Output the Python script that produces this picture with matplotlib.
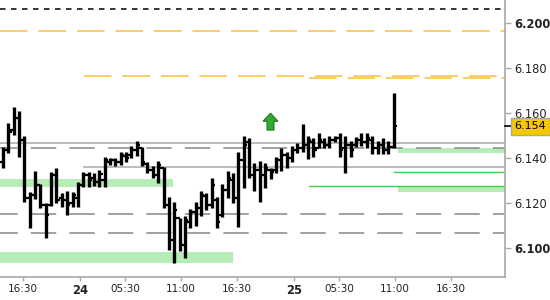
import matplotlib
matplotlib.use("Agg")
import matplotlib.pyplot as plt
import numpy as np
from matplotlib.collections import LineCollection
from matplotlib.patches import Polygon

# OHLC bars
opens = [6.1383, 6.1436, 6.1524, 6.1578, 6.1480, 6.1223, 6.1236, 6.1281, 6.1192, 6.1192,
         6.1325, 6.1223, 6.1214, 6.1201, 6.1223, 6.1281, 6.1325, 6.1312, 6.1294, 6.1303,
         6.1383, 6.1391, 6.1383, 6.1409, 6.1414, 6.1436, 6.1445, 6.1374, 6.1347, 6.1325,
         6.1356, 6.1192, 6.1037, 6.1134, 6.1015, 6.1117, 6.1161, 6.1179, 6.1232, 6.1192,
         6.1214, 6.1148, 6.1258, 6.1303, 6.1223, 6.1391, 6.1471, 6.1325, 6.1347, 6.1325,
         6.1347, 6.1347, 6.1391, 6.1414, 6.1400, 6.1436, 6.1445, 6.1458, 6.1471, 6.1445,
         6.1471, 6.1458, 6.1480, 6.1489, 6.1445, 6.1458, 6.1458, 6.1480, 6.1471, 6.1480,
         6.1445, 6.1458, 6.1436, 6.1449]
highs = [6.1449, 6.1555, 6.1626, 6.1609, 6.1498, 6.1250, 6.1343, 6.1285, 6.1201, 6.1338,
         6.1356, 6.1245, 6.1254, 6.1250, 6.1294, 6.1338, 6.1338, 6.1334, 6.1347, 6.1405,
         6.1400, 6.1400, 6.1427, 6.1427, 6.1453, 6.1476, 6.1449, 6.1383, 6.1365, 6.1387,
         6.1360, 6.1227, 6.1205, 6.1134, 6.1143, 6.1174, 6.1205, 6.1254, 6.1245, 6.1312,
         6.1227, 6.1285, 6.1343, 6.1334, 6.1427, 6.1498, 6.1489, 6.1378, 6.1387, 6.1378,
         6.1356, 6.1405, 6.1445, 6.1427, 6.1453, 6.1467, 6.1551, 6.1498, 6.1489, 6.1511,
         6.1489, 6.1498, 6.1498, 6.1511, 6.1498, 6.1476, 6.1493, 6.1511, 6.1511, 6.1498,
         6.1476, 6.1489, 6.1476, 6.1688]
lows = [6.1356, 6.1422, 6.1502, 6.1405, 6.1205, 6.1090, 6.1219, 6.1179, 6.1046, 6.1188,
        6.1201, 6.1183, 6.1148, 6.1183, 6.1183, 6.1272, 6.1272, 6.1276, 6.1272, 6.1272,
        6.1369, 6.1365, 6.1369, 6.1383, 6.1400, 6.1409, 6.1365, 6.1334, 6.1312, 6.1289,
        6.1179, 6.0992, 6.0935, 6.0988, 6.0957, 6.1090, 6.1099, 6.1143, 6.1170, 6.1179,
        6.1090, 6.1139, 6.1223, 6.1201, 6.1094, 6.1267, 6.1312, 6.1254, 6.1205, 6.1267,
        6.1307, 6.1334, 6.1343, 6.1356, 6.1383, 6.1422, 6.1427, 6.1396, 6.1405, 6.1445,
        6.1445, 6.1445, 6.1471, 6.1405, 6.1334, 6.1405, 6.1449, 6.1453, 6.1445, 6.1418,
        6.1418, 6.1418, 6.1418, 6.1445]
closes = [6.1436, 6.1516, 6.1578, 6.1480, 6.1223, 6.1236, 6.1281, 6.1192, 6.1148, 6.1325,
          6.1214, 6.1214, 6.1192, 6.1236, 6.1281, 6.1325, 6.1303, 6.1294, 6.1329, 6.1391,
          6.1391, 6.1383, 6.1414, 6.1400, 6.1436, 6.1458, 6.1383, 6.1347, 6.1325, 6.1369,
          6.1192, 6.1037, 6.1170, 6.1015, 6.1125, 6.1161, 6.1179, 6.1236, 6.1192, 6.1281,
          6.1117, 6.1258, 6.1312, 6.1223, 6.1391, 6.1458, 6.1325, 6.1347, 6.1325, 6.1356,
          6.1338, 6.1391, 6.1414, 6.1400, 6.1436, 6.1445, 6.1458, 6.1480, 6.1436, 6.1480,
          6.1458, 6.1480, 6.1489, 6.1436, 6.1458, 6.1436, 6.1480, 6.1471, 6.1489, 6.1445,
          6.1458, 6.1436, 6.1449, 6.1540]

# x axis labels (bar index positions)
tick_pos = [3.74, 14.4, 22.8, 33.3, 43.7, 54.4, 62.8, 73.3, 83.7]
tick_labels = ["16:30", "24", "05:30", "11:00", "16:30", "25", "05:30", "11:00", "16:30"]
day_labels = ["24", "25"]

# horizontal levels
full_dashed_gray = [6.1445, 6.1152, 6.1066]
full_solid_gray = [6.1467]
part_solid_gray = [(15.1, 6.1359)]
black_level = 6.2059
orange_full = [6.1962]
orange_part = [(15.1, 6.1762), (57.2, 6.1754)]
green_lines = [(57.2, 6.1275), (73.1, 6.1337)]
# zones: x start, x end, low, high
zones = [(-0.6, 31.8, 6.1271, 6.1307), (-0.6, 42.9, 6.0936, 6.0982),
         (73.8, 94.0, 6.1424, 6.1446), (73.8, 94.0, 6.1251, 6.1273)]
signal_idx = 50
signal_price = 6.1524
last_price = 6.154

xmin, xmax = -0.56, 93.83
ymin, ymax = 6.08728, 6.21006

fig = plt.figure(figsize=(5.5, 3), dpi=100)
ax = fig.add_axes([0, 23 / 300, 505 / 550, 277 / 300])
ax.set_xlim(xmin, xmax)
ax.set_ylim(ymin, ymax)

for x0, x1, lo, hi in zones:
    ax.fill_between([x0, x1], lo, hi, color="#b6ecb6", lw=0, zorder=1)

ax.axhline(black_level, color="black", lw=1.1, ls=(0, (3.6, 3.6)), zorder=2)
for p in orange_full:
    ax.axhline(p, color="#fbc03a", lw=1.1, ls=(0, (18, 7.2)), zorder=2)
for x0, p in orange_part:
    ax.plot([x0, xmax], [p, p], color="#fbc03a", lw=1.1, ls=(0, (18, 7.2)), zorder=2)
for p in full_solid_gray:
    ax.axhline(p, color="#a8a8a8", lw=1.1, zorder=2)
for x0, p in part_solid_gray:
    ax.plot([x0, xmax], [p, p], color="#a8a8a8", lw=1.1, zorder=2)
for p in full_dashed_gray:
    ax.axhline(p, color="#888888", lw=1.1, ls=(5, (16.6, 8.6)), zorder=2)
for x0, p in green_lines:
    ax.plot([x0, xmax], [p, p], color="#44cc44", lw=1.0, zorder=2)

# OHLC bars
idx = np.arange(len(closes))
segs = [[(i, l), (i, h)] for i, l, h in zip(idx, lows, highs)]
ax.add_collection(LineCollection(segs, colors="black", linewidths=2.4, zorder=4))
osegs = [[(i - 0.6, o), (i, o)] for i, o in zip(idx, opens)]
csegs = [[(i, c), (i + 0.6, c)] for i, c in zip(idx, closes)]
ax.add_collection(LineCollection(osegs + csegs, colors="black", linewidths=1.6, zorder=4))

# buy signal arrow
hw, sw = 1.4, 0.65
hh, sh = 0.0036, 0.0039
arrow = Polygon([(signal_idx - sw, signal_price), (signal_idx + sw, signal_price),
                 (signal_idx + sw, signal_price + sh), (signal_idx + hw, signal_price + sh),
                 (signal_idx, signal_price + sh + hh), (signal_idx - hw, signal_price + sh),
                 (signal_idx - sw, signal_price + sh)],
                closed=True, facecolor="#33a833", edgecolor="#1e7a1e", lw=0.8, zorder=5)
ax.add_patch(arrow)

# axes styling
for s in ["top", "left"]:
    ax.spines[s].set_visible(False)
for s in ["right", "bottom"]:
    ax.spines[s].set_color("#a8a8a8")
    ax.spines[s].set_linewidth(1.2)
ax.yaxis.tick_right()
yt = np.arange(6.10, 6.2001, 0.02)
ax.set_yticks(yt)
ax.set_yticklabels([f"{v:.3f}" for v in yt], fontsize=8.3, color="#222222")
for lab, v in zip(ax.get_yticklabels(), yt):
    if abs(v - 6.10) < 1e-6 or abs(v - 6.20) < 1e-6:
        lab.set_fontweight("bold")
ax.set_xticks(tick_pos)
ax.set_xticklabels(tick_labels, fontsize=7.5, color="#222222")
for lab in ax.get_xticklabels():
    if lab.get_text() in day_labels:
        lab.set_fontweight("bold")
        lab.set_fontsize(8.3)
ax.tick_params(axis="y", length=4.5, width=1, color="#a8a8a8", pad=2)
ax.tick_params(axis="x", length=3, width=1, color="#a8a8a8", pad=2)

# last price marker
ax.plot([1.0, 1.011], [last_price, last_price], transform=ax.get_yaxis_transform(),
        color="black", lw=1.2, clip_on=False, zorder=6)
ax.annotate(f"{last_price:.3f}", xy=(1.0, last_price), xycoords=("axes fraction", "data"),
            xytext=(7.0, 0), textcoords="offset points", va="center", ha="left",
            fontsize=8.0, color="black", annotation_clip=False, zorder=7,
            bbox=dict(boxstyle="square,pad=0.3", facecolor="#f6c800", edgecolor="#a8a8a8", lw=1))

fig.savefig("out.png", dpi=100)
